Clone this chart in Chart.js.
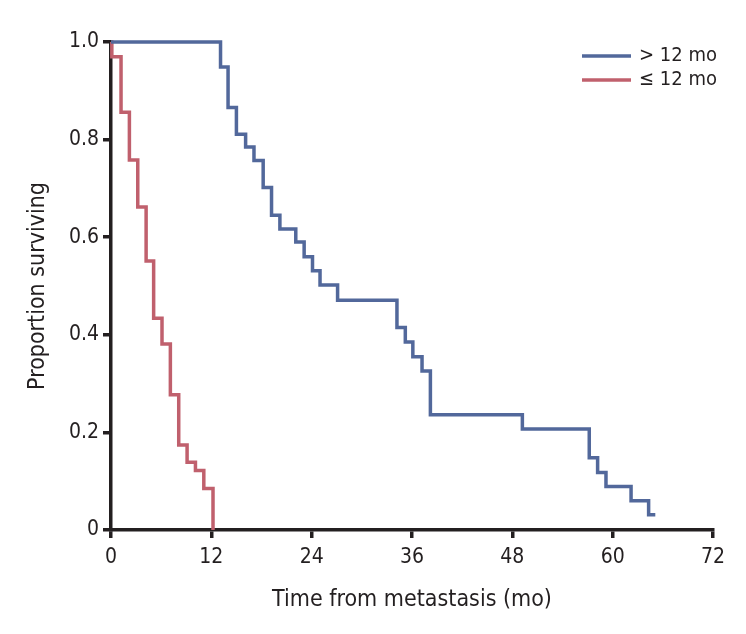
<!DOCTYPE html>
<html>
<head>
<meta charset="utf-8">
<script src="https://cdn.jsdelivr.net/npm/chart.js@4.4.1/dist/chart.umd.min.js"></script>
<style>
  html, body { margin: 0; padding: 0; background: #fff; }
  #wrap { width: 746px; height: 634px; position: relative; }
</style>
</head>
<body>
<div id="wrap"><canvas id="km"></canvas></div>
<script>
// Kaplan-Meier steps (months, proportion surviving)
const longTimes = [0, 13.1, 14.0, 15.0, 16.1, 17.1, 18.2, 19.2, 20.2, 22.1, 23.1, 24.1, 25.0, 27.1, 34.2, 35.2, 36.1, 37.2, 38.2, 49.2, 57.2, 58.2, 59.2, 62.2, 64.3, 65.1];
const longSurv  = [1, 0.949, 0.866, 0.811, 0.785, 0.757, 0.702, 0.645, 0.617, 0.590, 0.560, 0.531, 0.502, 0.471, 0.415, 0.385, 0.355, 0.326, 0.236, 0.207, 0.148, 0.118, 0.089, 0.060, 0.031, 0.031];
const shortTimes = [0, 0.1, 1.2, 2.2, 3.2, 4.2, 5.1, 6.1, 7.1, 8.1, 9.1, 10.1, 11.1, 12.2];
const shortSurv  = [1, 0.970, 0.856, 0.758, 0.662, 0.551, 0.434, 0.381, 0.277, 0.174, 0.139, 0.122, 0.085, 0];
const seriesLabels = ['> 12 mo', '\u2264 12 mo'];
const xTicks = [0, 12, 24, 36, 48, 60, 72];
const yTicks = [0, 0.2, 0.4, 0.6, 0.8, 1.0];

const fontFam = "'Liberation Sans Narrow', 'DejaVu Sans Condensed', 'Roboto', sans-serif";
const ink = '#231f20';
const blue = '#52689b';
const red = '#c0606d';

function toPoints(xs, ys) {
    return xs.map((x, i) => ({ x: x, y: ys[i] }));
}

// draw legend lines + text in the top right of the plot
const cornerLegend = {
    id: 'cornerLegend',
    afterDraw(chart) {
	const ctx = chart.ctx;
	const area = chart.chartArea;
	ctx.save();
	ctx.font = '20px ' + fontFam;
	ctx.textBaseline = 'middle';
	chart.data.datasets.forEach((ds, i) => {
	    const y = area.top + 14 + i * 24;
	    ctx.strokeStyle = ds.borderColor;
	    ctx.lineWidth = 3.5;
	    ctx.beginPath();
	    ctx.moveTo(area.right - 131, y);
	    ctx.lineTo(area.right - 82, y);
	    ctx.stroke();
	    ctx.fillStyle = ink;
	    ctx.fillText(ds.label, area.right - 74, y);
	});
	ctx.restore();
    }
};

new Chart(document.getElementById('km').getContext('2d'), {
    type: 'line',
    data: {
	datasets: [{
	    label: seriesLabels[0],
	    data: toPoints(longTimes, longSurv),
	    borderColor: blue,
	    borderWidth: 3.5,
	    stepped: true,
	    pointRadius: 0,
	    clip: 6,
	    fill: false
	}, {
	    label: seriesLabels[1],
	    data: toPoints(shortTimes, shortSurv),
	    borderColor: red,
	    borderWidth: 3.5,
	    stepped: true,
	    pointRadius: 0,
	    clip: 6,
	    fill: false
	}]
    },
    options: {
	responsive: true,
	maintainAspectRatio: false,
	animation: false,
	layout: {
	    padding: { left: 0, top: 42, right: 33, bottom: 16 }
	},
	plugins: {
	    legend: { display: false },
	    tooltip: { enabled: false }
	},
	scales: {
	    x: {
		type: 'linear',
		min: 0,
		max: 72,
		afterBuildTicks: (s) => { s.ticks = xTicks.map(v => ({ value: v })); },
		afterFit: (s) => { s.height = 88; },
		border: { display: true, color: ink, width: 3.5 },
		grid: { drawOnChartArea: false, drawTicks: true, tickLength: 8, color: ink, lineWidth: 3.5 },
		ticks: { color: ink, font: { family: fontFam, size: 21 }, padding: 7, maxRotation: 0 },
		title: { display: true, text: 'Time from metastasis (mo)', color: ink, font: { family: fontFam, size: 23 }, padding: { top: 4, bottom: 4 } }
	    },
	    y: {
		type: 'linear',
		min: 0,
		max: 1,
		afterBuildTicks: (s) => { s.ticks = yTicks.map(v => ({ value: v })); },
		afterFit: (s) => { s.width = 111; },
		border: { display: true, color: ink, width: 3.5 },
		grid: { drawOnChartArea: false, drawTicks: true, tickLength: 8, color: ink, lineWidth: 3.5 },
		ticks: {
		    color: ink,
		    font: { family: fontFam, size: 21 },
		    padding: 4,
		    callback: (v) => v === 0 ? '0' : v.toFixed(1)
		},
		title: { display: true, text: 'Proportion surviving', color: ink, font: { family: fontFam, size: 23 }, padding: { top: 24, bottom: 0 } }
	    }
	}
    },
    plugins: [cornerLegend]
});
</script>
</body>
</html>
